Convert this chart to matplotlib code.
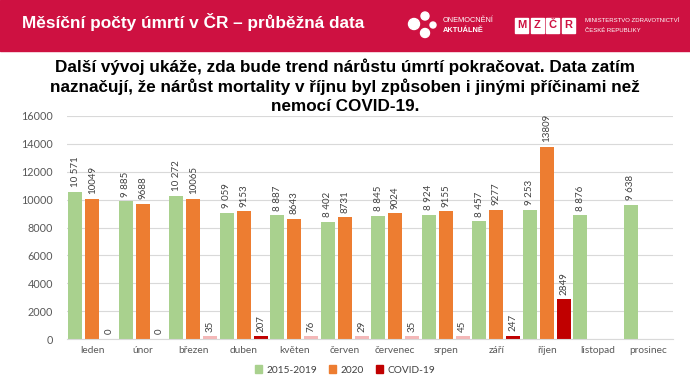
import matplotlib
matplotlib.use("Agg")
import matplotlib.pyplot as plt
from matplotlib.patches import Rectangle, Ellipse

months = ["leden", "únor", "březen", "duben", "květen", "červen", "červenec",
          "srpen", "září", "říjen", "listopad", "prosinec"]
avg_2015_2019 = [10571, 9885, 10272, 9059, 8887, 8402, 8845, 8924, 8457, 9253, 8876, 9638]
deaths_2020 = [10049, 9688, 10065, 9153, 8643, 8731, 9024, 9155, 9277, 13809]
covid_19 = [0, 0, 35, 207, 76, 29, 35, 45, 247, 2849]

GREEN = "#A9D18E"
ORANGE = "#ED7D31"
RED = "#C00000"
HEADER = "#CE1141"
W, H = 690, 382

plt.rcParams["font.family"] = ["Lato", "DejaVu Sans"]

fig = plt.figure(figsize=(W / 100, H / 100), dpi=100)


def fx(px):
    return px / W


def fy(py):
    return 1 - py / H


# header band
fig.patches.append(Rectangle((0, fy(51)), 1, 51 / H, transform=fig.transFigure,
                             color=HEADER, zorder=0))
fig.text(fx(22), fy(22), "Měsíční počty úmrtí v ČR – průběžná data", color="white",
         fontsize=12.4, fontweight="bold", family="Liberation Sans", va="center", ha="left")

# logo: onemocneni aktualne
for cx, cy, r in [(414, 24, 5.5), (425, 16, 4), (433, 25, 3), (425, 33, 4.5)]:
    fig.patches.append(Ellipse((fx(cx), fy(cy)), 2 * r / W, 2 * r / H,
                               transform=fig.transFigure, color="white", zorder=1))
fig.text(fx(443), fy(20), "ONEMOCNĚNÍ", color="white", fontsize=5.3,
         family="Liberation Sans", va="center")
fig.text(fx(443), fy(31), "AKTUÁLNĚ", color="white", fontsize=5.3,
         fontweight="bold", family="Liberation Sans", va="center")

# logo: ministerstvo
for i, ch in enumerate("MZČR"):
    x0 = 515 + i * 15.5
    fig.patches.append(Rectangle((fx(x0), fy(33)), 13 / W, 15 / H,
                                 transform=fig.transFigure, color="white", zorder=1))
    fig.text(fx(x0 + 6.5), fy(25.5), ch, color=HEADER, fontsize=8, fontweight="bold",
             family="Liberation Sans", ha="center", va="center", zorder=2)
fig.text(fx(585), fy(21), "MINISTERSTVO ZDRAVOTNICTVÍ", color="white", fontsize=4.3,
         family="Liberation Sans", va="center")
fig.text(fx(585), fy(30), "ČESKÉ REPUBLIKY", color="white", fontsize=4.3,
         family="Liberation Sans", va="center")

fig.text(0.5, fy(86),
         "Další vývoj ukáže, zda bude trend nárůstu úmrtí pokračovat. Data zatím\n"
         "naznačují, že nárůst mortality v říjnu byl způsoben i jinými příčinami než\n"
         "nemocí COVID-19.",
         ha="center", va="center", fontsize=12.3, fontweight="bold",
         family="Liberation Sans", linespacing=1.3)

ax = fig.add_axes([fx(67), fy(339), 606 / W, 223 / H])

w = 0.28
off = 0.335
x_all = list(range(len(months)))
b1 = ax.bar([x - off for x in x_all], avg_2015_2019, w, color=GREEN, label="2015-2019")
b2 = ax.bar(x_all[:len(deaths_2020)], deaths_2020, w, color=ORANGE, label="2020")
covid_colors = [RED if v > 100 else "#F4B8B8" for v in covid_19]
covid_shown = [max(v, 180) if v > 0 else 0 for v in covid_19]
b3 = ax.bar([x + off for x in x_all[:len(covid_19)]], covid_shown, w,
            color=covid_colors, label="COVID-19")


def fmt_space(v):
    return f"{v:,}".replace(",", " ")


for rect, v in zip(b1.patches, avg_2015_2019):
    ax.text(rect.get_x() + rect.get_width() / 2, v + 330, fmt_space(v), rotation=90,
            ha="center", va="bottom", fontsize=7, color="#404040")
for rect, v in zip(b2.patches, deaths_2020):
    ax.text(rect.get_x() + rect.get_width() / 2, v + 330, str(v), rotation=90,
            ha="center", va="bottom", fontsize=7, color="#404040")
for i, (v, s) in enumerate(zip(covid_19, covid_shown)):
    ax.text(i + off, s + 330, str(v), rotation=90,
            ha="center", va="bottom", fontsize=7, color="#404040")

ax.set_xlim(-0.5, len(months) - 0.5)
ax.set_ylim(0, 16000)
ax.set_yticks(range(0, 16001, 2000))
ax.set_xticks(x_all)
ax.set_xticklabels(months, fontsize=7.3)
ax.tick_params(length=0, colors="#595959")
ax.tick_params(axis="y", pad=10, labelsize=7.8)
ax.tick_params(axis="x", pad=5)
ax.grid(axis="y", color="#D9D9D9", linewidth=0.8)
ax.set_axisbelow(True)
for s in ["top", "right", "left"]:
    ax.spines[s].set_visible(False)
ax.spines["bottom"].set_color("#D9D9D9")

h = [Rectangle((0, 0), 1, 1, color=c) for c in (GREEN, ORANGE, RED)]
fig.legend(h, ["2015-2019", "2020", "COVID-19"], loc="center", ncol=3,
           bbox_to_anchor=(0.5, fy(370)), frameon=False, fontsize=7.3,
           handlelength=0.7, handleheight=0.7, handletextpad=0.4, columnspacing=1.2,
           labelcolor="#404040")

fig.savefig("out.png", dpi=100)
